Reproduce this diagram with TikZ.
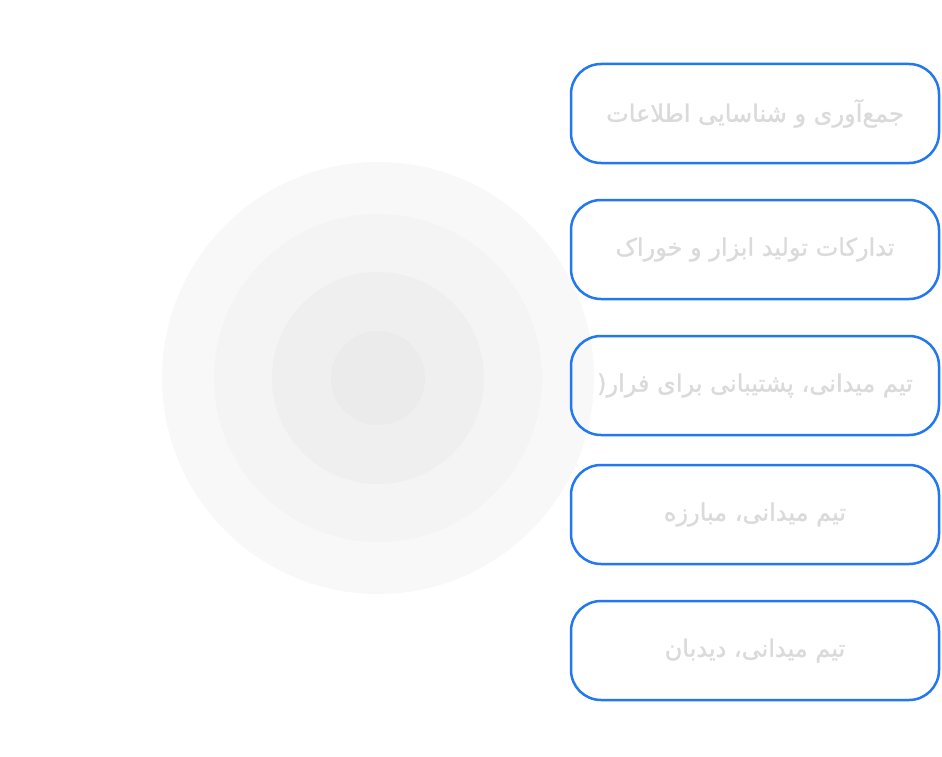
\documentclass[tikz,border=0pt]{standalone}
\usepackage{fontspec}
\newfontfamily\arabicfont[Script=Arabic,FakeBold=1.2]{DejaVu Sans}
\TeXXeTstate=1
\definecolor{boxblue}{RGB}{34,119,242}
\definecolor{txtgray}{RGB}{218,218,218}
\definecolor{ring1}{RGB}{248,248,248}
\definecolor{ring2}{RGB}{244,244,244}
\definecolor{ring3}{RGB}{239,239,239}
\definecolor{ring4}{RGB}{235,235,235}
\begin{document}
\begin{tikzpicture}[x=1pt,y=-1pt,
  box/.style={draw=boxblue, line width=2.5pt, rounded corners=30pt,
    minimum width=368pt, minimum height=99pt, inner sep=0pt,
    text=txtgray, font=\arabicfont\fontsize{24}{28}\selectfont},
  ring/.style={circle, inner sep=0pt, draw=none}]
\useasboundingbox (0,0) rectangle (942,757);
\node[ring, fill=ring1, minimum size=432pt] (r1) at (378,378) {};
\node[ring, fill=ring2, minimum size=328pt] (r2) at (378,378) {};
\node[ring, fill=ring3, minimum size=212pt] (r3) at (378,378) {};
\node[ring, fill=ring4, minimum size=94pt] (r4) at (378,378) {};
\node[box] (b1) at (755,113.5) {\beginR جمع‌آوری و شناسایی اطلاعات\endR};
\node[box] (b2) at (755,249.5) {\beginR تدارکات تولید ابزار و خوراک\endR};
\node[box] (b3) at (755,385.5) {\beginR تیم میدانی، پشتیبانی برای فرار(\endR};
\node[box] (b4) at (755,514.5) {\beginR تیم میدانی، مبارزه\endR};
\node[box] (b5) at (755,650.5) {\beginR تیم میدانی، دیدبان\endR};
\end{tikzpicture}
\end{document}
